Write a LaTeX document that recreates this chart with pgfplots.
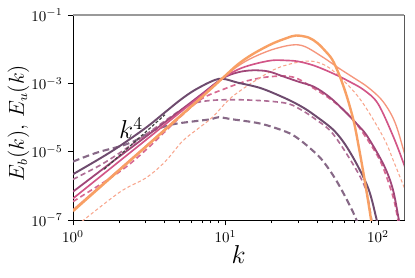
\documentclass[border=0pt]{standalone}
\usepackage{pgfplots}
\pgfplotsset{compat=1.18}
\definecolor{cSDP}{HTML}{6E4B6E}
\definecolor{cDDP}{HTML}{876987}
\definecolor{cSP}{HTML}{A04678}
\definecolor{cDP}{HTML}{AF6E96}
\definecolor{cSM}{HTML}{D25587}
\definecolor{cDPk}{HTML}{D76991}
\definecolor{cSS}{HTML}{F5967D}
\definecolor{cSO}{HTML}{F8A064}
\definecolor{cDS}{HTML}{F8A58C}
\begin{document}
\begin{tikzpicture}
\useasboundingbox (-48.7pt,-38pt) rectangle (228pt,146.7pt);
\begin{axis}[
  name=ax,
  at={(0,0)}, anchor=south west,
  width=220.7pt, height=136.7pt, scale only axis,
  xmode=log, ymode=log,
  xmin=1, xmax=148, ymin=1e-7, ymax=1e-1,
  ytick={1e-7,1e-5,1e-3,1e-1},
  xtick={1,10,100},
  tick align=outside,
  tick pos=left,
  major tick length=3.5pt, minor tick length=2pt,
  minor y tick style={draw=none},
  axis line style={black, line width=0.6pt},
  every tick/.style={black, line width=0.5pt},
  xlabel={$k$}, ylabel={$E_b(k),\,E_u(k)$},
  xlabel style={font=\fontsize{16}{19}\selectfont, at={(axis description cs:0.5,-0.21)}, anchor=base},
  ylabel style={font=\fontsize{13.5}{16}\selectfont, at={(axis description cs:-0.165,0.473)}, anchor=center},
  every axis plot/.append style={smooth, tension=0.55},
]
% dashed dark purple
\addplot[cDDP, line width=1.4pt, dash pattern=on 4.5pt off 2.5pt] coordinates {
(1,5.13e-6)(1.2,7.08e-6)(1.5,1.0e-5)(2,1.41e-5)(2.5,2.0e-5)(3,3.16e-5)(3.5,4.47e-5)
(4.5,6.31e-5)(6,7.59e-5)(8,8.91e-5)(9,1.02e-4)(11,8.91e-5)(17,6.61e-5)(25,3.80e-5)
(30,2.40e-5)(38,1.0e-5)(44,5.01e-6)(53,1.48e-6)(64,3.16e-7)(73,8.91e-8)(78,3.16e-8)};
% dashed purple
\addplot[cDP, line width=1.1pt, dash pattern=on 3.5pt off 2.2pt] coordinates {
(1,1.55e-6)(1.5,3.98e-6)(2,8.91e-6)(3,3.16e-5)(4,7.94e-5)(5,1.58e-4)(6,2.51e-4)
(8,3.16e-4)(12,3.31e-4)(19,3.02e-4)(26,2.51e-4)(32,1.58e-4)(38,9.55e-5)(50,3.55e-5)
(69,4.07e-6)(83,7.94e-7)(90,1.26e-7)(93,5.01e-8)};
% dashed pink
\addplot[cDPk, line width=1.1pt, dash pattern=on 3.5pt off 2.2pt] coordinates {
(1,3.47e-7)(2,2.51e-6)(3,1.12e-5)(5,1.0e-4)(7,3.55e-4)(10,7.08e-4)(14,1.20e-3)
(20,1.58e-3)(28,1.51e-3)(38,7.08e-4)(50,3.16e-4)(65,1.12e-4)(81,3.16e-5)(104,5.01e-6)
(125,5.01e-7)(135,1.0e-7)(142,3.16e-8)};
% dashed salmon
\addplot[cDS, line width=0.7pt, dash pattern=on 2.2pt off 1.6pt] coordinates {
(1,5.62e-8)(2,6.31e-7)(3,1.70e-6)(4,5.01e-6)(5.2,2.0e-5)(6.5,4.47e-5)(8.2,1.02e-4)
(11,3.98e-4)(16.6,1.41e-3)(22,2.82e-3)(30,4.17e-3)(38,4.37e-3)(48,2.82e-3)(65,7.94e-4)
(81,2.34e-4)(109,2.51e-5)(127,5.01e-6)(150,7.94e-7)};
% solid dark purple
\addplot[cSDP, line width=1.3pt] coordinates {
(1,2.19e-6)(1.5,6.31e-6)(2,1.41e-5)(3,5.01e-5)(4,1.41e-4)(5,3.16e-4)(6,5.62e-4)
(7,8.32e-4)(8,1.12e-3)(9,1.35e-3)(10,1.32e-3)(12,1.05e-3)(17,7.24e-4)(25,3.55e-4)
(32,2.0e-4)(38,1.20e-4)(50,4.68e-5)(60,1.78e-5)(73,4.07e-6)(87,7.59e-7)(98,1.0e-7)(105,2.5e-8)};
% solid purple
\addplot[cSP, line width=1.2pt] coordinates {
(1,6.76e-7)(2,7.08e-6)(3,2.75e-5)(5,1.55e-4)(7,4.90e-4)(9.5,1.38e-3)(12,2.09e-3)
(15,2.40e-3)(19,2.24e-3)(24,1.58e-3)(30,1.12e-3)(38,7.94e-4)(48,3.98e-4)(60,1.58e-4)
(73,6.31e-5)(85,2.82e-5)(109,4.07e-6)(125,7.94e-7)(137,1.0e-7)(145,3.16e-8)};
% solid magenta
\addplot[cSM, line width=1.1pt] coordinates {
(1,4.27e-7)(2,5.13e-6)(3,2.19e-5)(5,1.38e-4)(7,4.57e-4)(9.5,1.38e-3)(12,2.51e-3)
(15,3.55e-3)(20,4.68e-3)(25,4.68e-3)(30,4.37e-3)(38,3.31e-3)(50,2.0e-3)(65,1.12e-3)
(81,6.31e-4)(100,2.51e-4)(127,2.51e-5)(150,3.55e-6)};
% solid salmon
\addplot[cSS, line width=0.9pt] coordinates {
(1,2.0e-7)(2,3.02e-6)(3,1.48e-5)(5,1.12e-4)(7,4.17e-4)(9.5,1.38e-3)(12,3.16e-3)
(15,5.62e-3)(20,9.55e-3)(27,1.32e-2)(33,1.20e-2)(44,5.62e-3)(55,2.82e-3)(70,1.41e-3)
(85,7.94e-4)(104,3.55e-4)(120,1.41e-4)(133,5.01e-5)(150,7.94e-6)};
% solid orange
\addplot[cSO, line width=1.6pt] coordinates {
(1,1.82e-7)(2,2.82e-6)(3,1.38e-5)(5,1.05e-4)(7,3.98e-4)(9.5,1.38e-3)(12,3.55e-3)
(15,7.08e-3)(20,1.41e-2)(25,2.09e-2)(29,2.51e-2)(35,2.19e-2)(40,1.51e-2)(45,8.91e-3)
(50,5.01e-3)(55,2.0e-3)(60,7.08e-4)(65,2.24e-4)(70,6.31e-5)(75,1.26e-5)(80,2.51e-6)
(85,5.01e-7)(90,1.0e-7)(93,3.16e-8)};
% k^4 reference
\addplot[black!75, line width=0.8pt, dash pattern=on 2pt off 1.3pt, sharp plot] coordinates {
(1.6,3.06e-6)(4.0,1.20e-4)};
\node[font=\fontsize{16.5}{19}\selectfont] at (axis cs:2.4,4.9e-5) {$k^4$};
\end{axis}
\draw[gray!80, line width=0.7pt] (ax.north west) -- (ax.north east);
\draw[black!65, line width=0.7pt] (ax.north east) -- (ax.south east);
\end{tikzpicture}
\end{document}
